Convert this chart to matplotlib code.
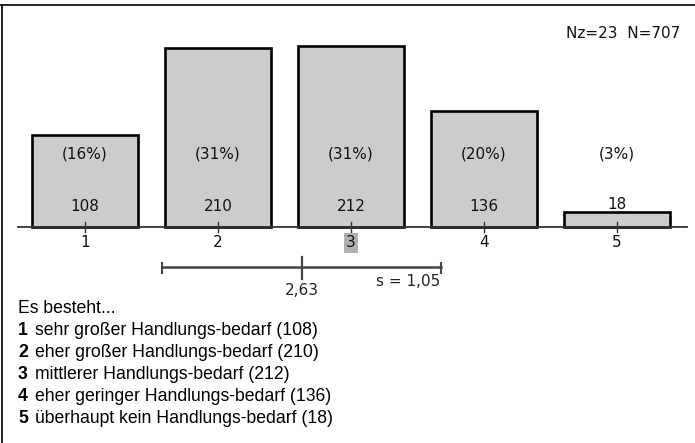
import numpy as np
import matplotlib
matplotlib.use('Agg')
import matplotlib.pyplot as plt

# Daten
kategorien = [1, 2, 3, 4, 5]
anzahl = [108, 210, 212, 136, 18]
prozent = ['(16%)', '(31%)', '(31%)', '(20%)', '(3%)']
legende = ['sehr großer Handlungs-bedarf (108)',
           'eher großer Handlungs-bedarf (210)',
           'mittlerer Handlungs-bedarf (212)',
           'eher geringer Handlungs-bedarf (136)',
           'überhaupt kein Handlungs-bedarf (18)']
mittelwert = 2.63
std = 1.05
median = 3
Nz, N = 23, 707

W, H = 695, 443
fig = plt.figure(figsize=(W/100, H/100), dpi=100)
ax = fig.add_axes([0, 0, 1, 1])
ax.set_axis_off()

# Pixel -> Datenkoordinaten (x: Kategorie, y: Anzahl)
x0, dx = 85, 133
y0, dy = 227, 0.852
ax.set_xlim(1 - x0/dx, 1 + (W - x0)/dx)
ax.set_ylim((y0 - H)/dy, y0/dy)

fs = 11
ax.bar(kategorien, anzahl, width=0.8, color='#cccccc', edgecolor='black', linewidth=1.9, zorder=2)

# Grundlinie mit Ticks
ax.plot([0.496, 5.53], [0, 0], color='#333333', lw=1.3, zorder=3)
for k in kategorien:
    ax.plot([k, k], [-6, 6], color='#333333', lw=1.0, zorder=3)
    bbox = dict(boxstyle='square,pad=0.15', fc='#b0b0b0', ec='none') if k == median else None
    ax.text(k, -18.5, str(k), ha='center', va='center', fontsize=fs, color='#111111', bbox=bbox)

for k, n, p in zip(kategorien, anzahl, prozent):
    ax.text(k, 86, p, ha='center', va='center', fontsize=fs, color='#111111', zorder=4)
    ax.text(k, 23.5 if n > 30 else 26, str(n), ha='center', va='center', fontsize=fs, color='#111111', zorder=4)

# Mittelwert und Standardabweichung
ym = -47
ax.plot([mittelwert - std, mittelwert + std], [ym, ym], color='#444444', lw=1.8)
for xe in (mittelwert - std, mittelwert + std):
    ax.plot([xe, xe], [-42.3, -54], color='#444444', lw=1.5)
ax.plot([mittelwert, mittelwert], [-35, -61], color='#444444', lw=1.6)
ax.text(mittelwert, -74, f'{mittelwert:.2f}'.replace('.', ','), ha='center', va='center', fontsize=fs, color='#222222')
ax.text(mittelwert + std - 0.01, -63.5, f's = {std:.2f}'.replace('.', ','), ha='right', va='center', fontsize=fs, color='#222222')

fig.text(680/W, 1 - 33/H, f'Nz={Nz}  N={N}', ha='right', va='center', fontsize=fs, color='#111111')

# Legende
lf = 12.7
fig.text(18/W, 1 - 313/H, 'Es besteht...', ha='left', va='baseline', fontsize=lf, family='Liberation Sans')
for i, t in enumerate(legende):
    y = 1 - (335 + i*22)/H
    fig.text(18/W, y, str(kategorien[i]), ha='left', va='baseline', fontsize=lf, family='Liberation Sans', weight='bold')
    fig.text(35/W, y, t, ha='left', va='baseline', fontsize=lf, family='Liberation Sans')

# Rahmen
fig.add_artist(plt.Line2D([0, 1], [1 - 5/H, 1 - 5/H], color='black', lw=1.2))
fig.add_artist(plt.Line2D([2/W, 2/W], [0, 1 - 5/H], color='black', lw=1.2))

fig.savefig('out.png', dpi=100)
